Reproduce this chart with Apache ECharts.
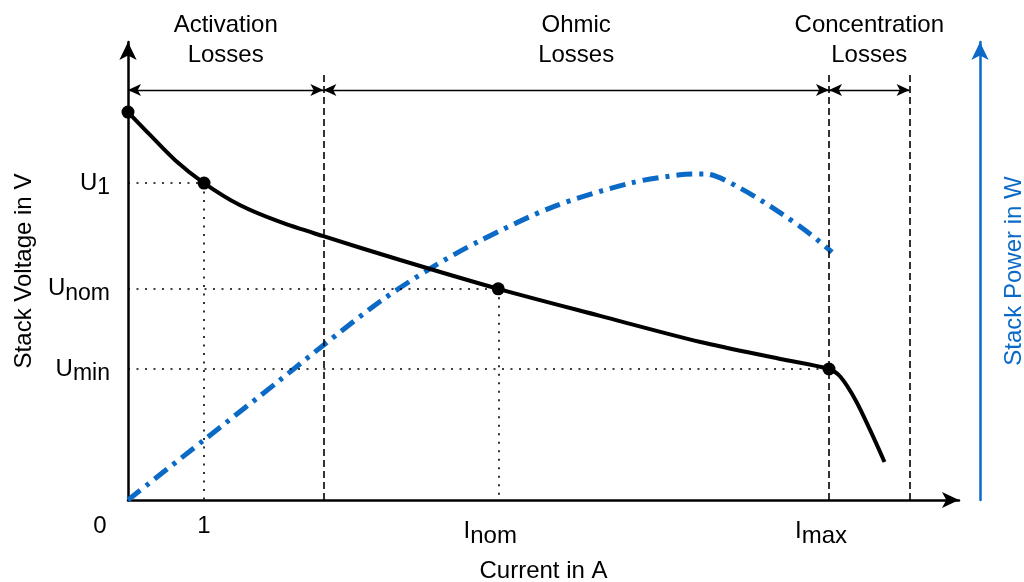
<!DOCTYPE html>
<html>
<head>
<meta charset="utf-8">
<script src="https://cdn.jsdelivr.net/npm/echarts@6/dist/echarts.min.js"></script>
<style>
html,body{margin:0;padding:0;background:#fff;}
#main{width:1024px;height:582px;}
</style>
</head>
<body>
<div id="main"></div>
<script>
// ---- data ----
const currentV = [0, 0.29, 0.62, 1.0, 1.47, 2.0, 2.57, 3.58, 4.87, 6.21, 7.53, 8.58, 9.22, 9.37, 9.57, 9.76, 9.95];
const voltage  = [8.47, 7.97, 7.42, 6.92, 6.44, 6.07, 5.76, 5.24, 4.61, 4.02, 3.45, 3.08, 2.86, 2.69, 2.18, 1.53, 0.83];
const currentP = [0, 1.0, 2.0, 2.57, 3.32, 4.01, 4.63, 5.59, 6.61, 7.26, 7.59, 8.05, 8.58, 8.97, 9.26];
const power    = [0, 1.31, 2.62, 3.38, 4.34, 5.09, 5.66, 6.40, 6.92, 7.10, 7.12, 6.81, 6.27, 5.81, 5.41];
const keyCurrent = [0, 1, 4.87, 9.22];
const keyVoltage = [8.47, 6.92, 4.61, 2.86];
const xTickValues = [0, 1, 4.87, 9.22];
const xTickMain = ['0', '1', 'I', 'I'];
const xTickSub  = ['', '', 'nom', 'max'];
const yTickValues = [6.92, 4.61, 2.86];
const yTickMain = ['U', 'U', 'U'];
const yTickSub  = ['1', 'nom', 'min'];
const regionBounds = [0, 2.57, 9.22, 10.28];
const regionNames = ['Activation\nLosses', 'Ohmic\nLosses', 'Concentration\nLosses'];
const regionArrowLevel = 8.95;
const boundTop = 9.34;
const xMax = 10.93, yMax = 10.0, pMax = 10.0;

// ---- build ----
const FONT = 'Liberation Sans, Arial, sans-serif';
const BLUE = '#0a6ac6';
const vData = currentV.map((x, i) => [x, voltage[i]]);
const pData = currentP.map((x, i) => [x, power[i]]);
const keyData = keyCurrent.map((x, i) => [x, keyVoltage[i]]);

const guideLines = [];
keyData.slice(1).forEach((p, i) => {
  guideLines.push([{coord: [0, p[1]]}, {coord: [p[0], p[1]]}]);
  if (i < 2) guideLines.push([{coord: [p[0], p[1]]}, {coord: [p[0], 0]}]);
});
const boundLines = regionBounds.slice(1).map(b => [{coord: [b, 0]}, {coord: [b, boundTop]}]);
const regionLines = regionNames.map((n, i) => [
  {coord: [regionBounds[i], regionArrowLevel], name: n},
  {coord: [regionBounds[i + 1], regionArrowLevel]}
]);

const richLab = {
  m: {fontSize: 24, fontFamily: FONT, color: '#000'},
  s: {fontSize: 23, fontFamily: FONT, color: '#000', padding: [10, 0, 0, 0]},
  z: {fontSize: 24, fontFamily: FONT, color: '#000', padding: [0, 56, 0, 0]},
  xs: {fontSize: 24, fontFamily: FONT, color: '#000', padding: [10, 16, 0, 0]}
};

const chart = echarts.init(document.getElementById('main'), null, {renderer: 'canvas'});
chart.setOption({
  animation: false,
  backgroundColor: '#fff',
  grid: {left: 128, right: 65, top: 42, bottom: 82, containLabel: false, outerBoundsMode: 'none'},
  xAxis: {
    type: 'value', min: 0, max: xMax,
    splitLine: {show: false},
    axisTick: {show: false},
    axisLine: {show: true, onZero: false, lineStyle: {color: '#000', width: 2.5},
      symbol: ['none', 'arrow'], symbolSize: [12, 17]},
    axisLabel: {
      customValues: xTickValues, margin: 14, color: '#000', fontSize: 24, fontFamily: FONT,
      formatter: v => {
        const i = xTickValues.indexOf(v);
        if (i < 0) return '';
        if (i === 0) return '{z|' + xTickMain[i] + '}';
        if (!xTickSub[i]) return '{m|' + xTickMain[i] + '}';
        return '{m|' + xTickMain[i] + '}{xs|' + xTickSub[i] + '}';
      },
      rich: richLab
    },
    name: 'Current in A', nameLocation: 'middle', nameGap: 59,
    nameTextStyle: {color: '#000', fontSize: 24, fontFamily: FONT}
  },
  yAxis: [{
    type: 'value', min: 0, max: yMax,
    splitLine: {show: false},
    axisTick: {show: false},
    axisLine: {show: true, onZero: false, lineStyle: {color: '#000', width: 2.5},
      symbol: ['none', 'arrow'], symbolSize: [13, 18]},
    axisLabel: {
      customValues: yTickValues, margin: 18, color: '#000', fontSize: 24, fontFamily: FONT,
      formatter: v => {
        const i = yTickValues.indexOf(v);
        if (i < 0) return '';
        return '{m|' + yTickMain[i] + '}{s|' + yTickSub[i] + '}';
      },
      rich: richLab
    },
    name: 'Stack Voltage in V', nameLocation: 'middle', nameGap: 92, nameRotate: 90,
    nameTextStyle: {color: '#000', fontSize: 24, fontFamily: FONT}
  }, {
    type: 'value', min: 0, max: pMax, position: 'right', offset: 21,
    splitLine: {show: false},
    axisTick: {show: false},
    axisLabel: {show: false},
    axisLine: {show: true, onZero: false, lineStyle: {color: BLUE, width: 2.5},
      symbol: ['none', 'arrow'], symbolSize: [13, 18]},
    name: 'Stack Power in W', nameLocation: 'middle', nameGap: 22, nameRotate: 90,
    nameTextStyle: {color: BLUE, fontSize: 24, fontFamily: FONT}
  }],
  series: [
    {
      type: 'line', name: 'bounds', data: [], silent: true,
      markLine: {silent: true, symbol: 'none', animation: false,
        lineStyle: {color: '#000', width: 1.6, type: [7, 4]},
        label: {show: false}, emphasis: {disabled: true},
        data: boundLines}
    },
    {
      type: 'line', name: 'regions', data: [], silent: true,
      markLine: {silent: true, symbol: ['arrow', 'arrow'], symbolSize: [9, 13], animation: false,
        lineStyle: {color: '#000', width: 1.4, type: 'solid'},
        emphasis: {disabled: true},
        label: {show: true, position: 'insideMiddleTop', distance: 20, formatter: p => p.name,
          color: '#000', fontSize: 24, lineHeight: 30, fontFamily: FONT, align: 'center'},
        data: regionLines}
    },
    {
      type: 'line', name: 'Power', yAxisIndex: 1, data: pData, smooth: 0.3,
      showSymbol: false, symbol: 'none',
      lineStyle: {color: BLUE, width: 5, type: [16, 7, 4, 7], cap: 'butt'}
    },
    {
      type: 'line', name: 'Voltage', data: vData, smooth: 0.3,
      showSymbol: false, symbol: 'none', z: 3,
      lineStyle: {color: '#000', width: 4}
    },
    {
      type: 'scatter', name: 'points', data: keyData, symbolSize: 13, z: 4,
      itemStyle: {color: '#000', opacity: 1},
      markLine: {silent: true, symbol: 'none', animation: false,
        lineStyle: {color: '#000', width: 1.6, type: [2, 6.5]},
        label: {show: false}, emphasis: {disabled: true},
        data: guideLines}
    }
  ]
});
</script>
</body>
</html>
